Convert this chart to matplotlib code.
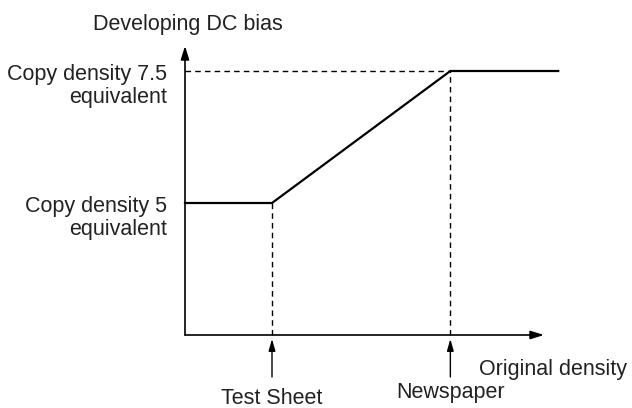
import matplotlib
matplotlib.use("Agg")
import matplotlib.pyplot as plt

plt.rcParams['font.family'] = ['Liberation Sans', 'DejaVu Sans']

# abstract units: original density (x) and developing DC bias (y)
curve_x = [0.0, 1.0, 3.05, 4.29]
curve_y = [1.0, 1.0, 2.0, 2.0]
test_sheet_x = 1.0
newspaper_x = 3.05
bias_low = 1.0
bias_high = 2.0
y_labels = [("Copy density 5", "equivalent"), ("Copy density 7.5", "equivalent")]

# pixel helpers (figure is laid out on a 632x408 pixel grid)
def px(x):
    return (x - 185) / 87

def py(y):
    return (335 - y) / 132

fig = plt.figure(figsize=(6.32, 4.08), dpi=100)
ax = fig.add_axes([0, 0, 1, 1])
ax.set_xlim(px(0), px(632))
ax.set_ylim(py(408), py(0))
ax.axis("off")

ink = "black"

# axes with arrows
ax.annotate("", xy=(px(544), 0), xytext=(0, 0),
            arrowprops=dict(arrowstyle="-|>,head_length=0.8,head_width=0.25",
                            color=ink, lw=1.2, shrinkA=0, shrinkB=0))
ax.annotate("", xy=(0, py(46)), xytext=(0, 0),
            arrowprops=dict(arrowstyle="-|>,head_length=0.8,head_width=0.25",
                            color=ink, lw=1.2, shrinkA=0, shrinkB=0))

# dashed guides
ax.plot([test_sheet_x, test_sheet_x], [0, bias_low], "--", color=ink, lw=1.0, dashes=(4, 3))
ax.plot([newspaper_x, newspaper_x], [0, bias_high], "--", color=ink, lw=1.0, dashes=(4, 3))
ax.plot([0, newspaper_x], [bias_high, bias_high], "--", color=ink, lw=1.0, dashes=(4, 3))

# characteristic curve
ax.plot(curve_x, curve_y, color=ink, lw=1.6, solid_joinstyle="miter")

# pointer arrows below x axis
for xv in (test_sheet_x, newspaper_x):
    ax.annotate("", xy=(xv, py(339)), xytext=(xv, py(377)),
                arrowprops=dict(arrowstyle="-|>,head_length=0.7,head_width=0.2",
                                color=ink, lw=1.0, shrinkA=0, shrinkB=0))

fs = 15.5
tc = "#222222"
ax.text(px(188), py(30), "Developing DC bias", fontsize=fs, color=tc,
        ha="center", va="baseline")
ax.text(px(627), py(375), "Original density", fontsize=fs, color=tc,
        ha="right", va="baseline")
ax.text(test_sheet_x, py(404), "Test Sheet", fontsize=fs, color=tc,
        ha="center", va="baseline")
ax.text(newspaper_x, py(398), "Newspaper", fontsize=fs, color=tc,
        ha="center", va="baseline")
for yv, (l1, l2) in zip([bias_low, bias_high], y_labels):
    base = 335 - yv * 132
    ax.text(px(167), py(base + 9), l1, fontsize=fs, color=tc,
            ha="right", va="baseline")
    ax.text(px(167), py(base + 32), l2, fontsize=fs, color=tc,
            ha="right", va="baseline")

fig.savefig("out.png", dpi=100, facecolor="white")
